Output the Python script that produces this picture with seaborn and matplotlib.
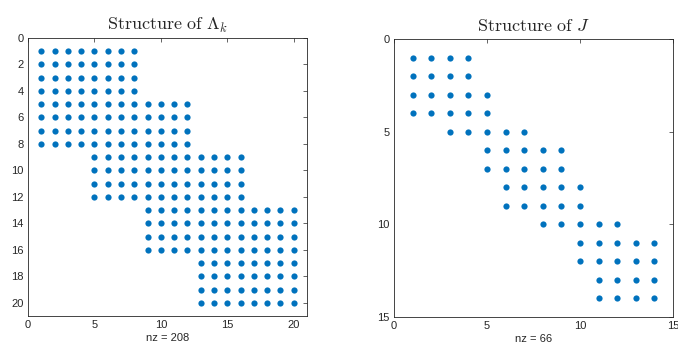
import numpy as np
import pandas as pd
import matplotlib
matplotlib.use("Agg")
import matplotlib.pyplot as plt
import seaborn as sns

# row-wise column extents of the nonzero pattern
lam_start = [1, 1, 1, 1, 1, 1, 1, 1, 5, 5, 5, 5, 9, 9, 9, 9, 13, 13, 13, 13]
lam_end = [8, 8, 8, 8, 12, 12, 12, 12, 16, 16, 16, 16, 20, 20, 20, 20, 20, 20, 20, 20]
j_start = [1, 1, 1, 1, 3, 5, 5, 6, 6, 8, 10, 10, 11, 11]
j_end = [4, 4, 5, 5, 7, 9, 9, 10, 10, 12, 14, 14, 14, 14]


def pattern(starts, ends):
    rows, cols = [], []
    for r, (a, b) in enumerate(zip(starts, ends), start=1):
        for c in range(a, b + 1):
            rows.append(r)
            cols.append(c)
    return pd.DataFrame({"row": rows, "col": cols})


lam = pattern(lam_start, lam_end)
jac = pattern(j_start, j_end)

sns.set_style("white")
plt.rcParams["font.family"] = ["Liberation Sans", "DejaVu Sans"]
plt.rcParams["mathtext.fontset"] = "cm"

blue = "#0072BD"
edge = "#262626"

fig = plt.figure(figsize=(6.78, 3.49), dpi=100)
ax1 = fig.add_axes([0.0413, 0.0946, 0.4115, 0.7966])
ax2 = fig.add_axes([0.581, 0.0917, 0.4115, 0.7966])

specs = [
    (ax1, lam, 21, np.arange(0, 21, 2), np.arange(0, 21, 5), r"$\mathrm{Structure\ of}\ \Lambda_k$"),
    (ax2, jac, 15, np.arange(0, 16, 5), np.arange(0, 16, 5), r"$\mathrm{Structure\ of}\ J$"),
]

for ax, df, n, yt, xt, title in specs:
    sns.scatterplot(data=df, x="col", y="row", ax=ax, color=blue, s=20,
                    linewidth=0, edgecolor=blue, legend=False)
    ax.set_xlim(0, n)
    ax.set_ylim(n, 0)
    ax.set_xticks(xt)
    ax.set_yticks(yt)
    ax.set_xlabel(f"nz = {len(df)}", fontsize=8, color=edge, labelpad=2)
    ax.set_ylabel("")
    ax.set_title(title, fontsize=13, pad=6)
    ax.tick_params(direction="in", length=3, width=0.5, top=True, right=True,
                   labelsize=8, colors=edge, pad=3)
    for sp in ax.spines.values():
        sp.set_linewidth(0.6)
        sp.set_color(edge)

fig.savefig("out.png", dpi=100)
